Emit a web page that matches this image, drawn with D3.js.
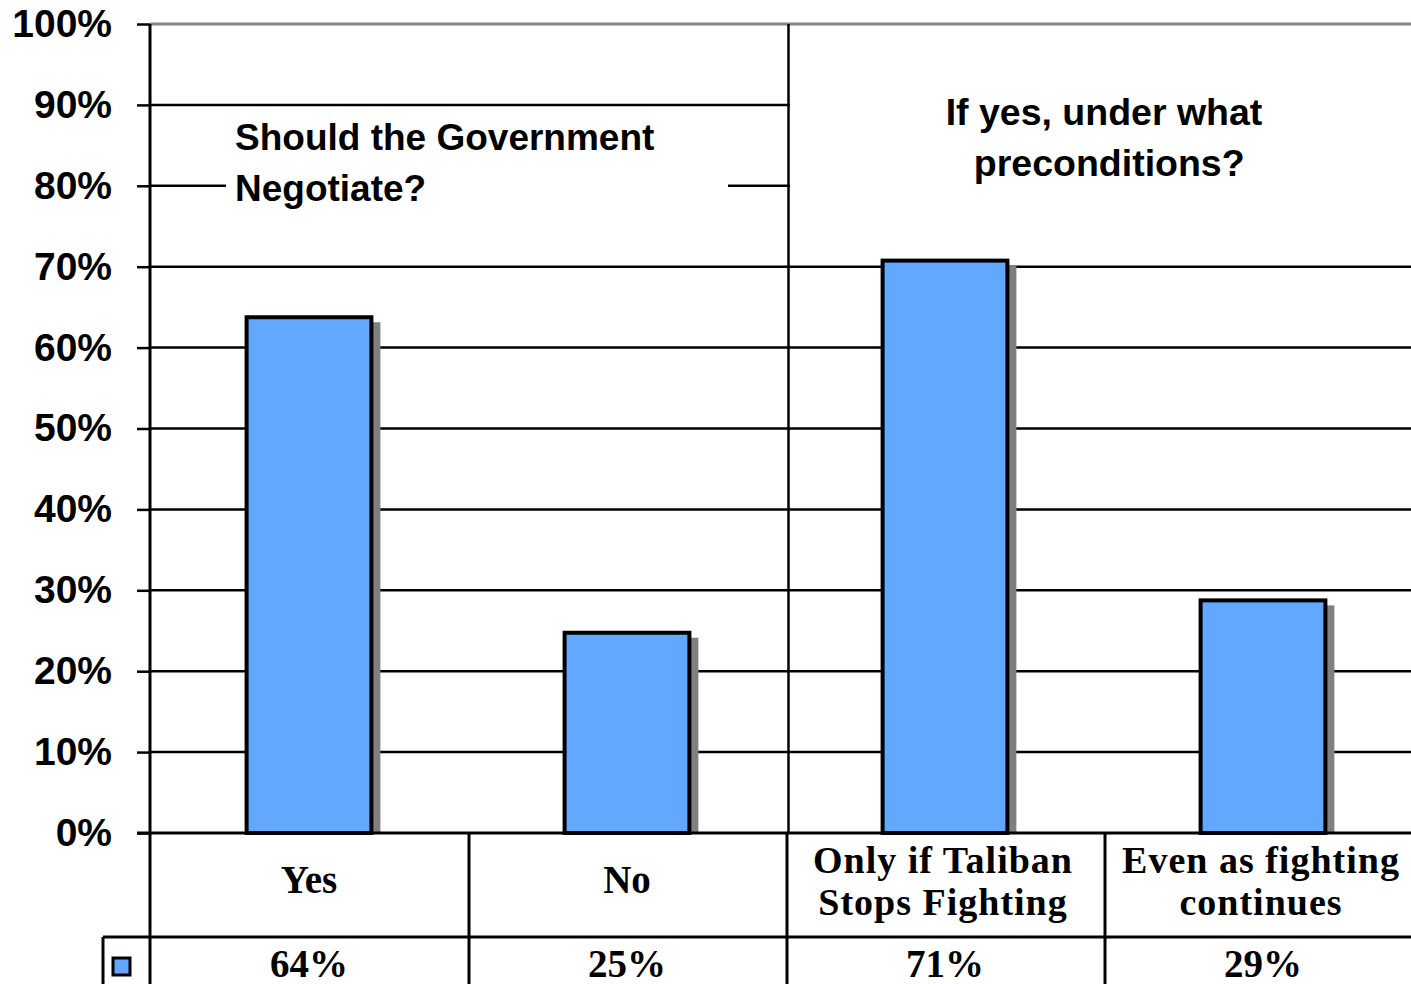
<!DOCTYPE html>
<html>
<head>
<meta charset="utf-8">
<script src="https://cdn.jsdelivr.net/npm/d3@7/dist/d3.min.js"></script>
<style>
  html, body { margin: 0; padding: 0; background: #fff; }
  svg { display: block; }
</style>
</head>
<body>
<svg id="chart" width="1411" height="984"></svg>
<script>
// ---- data ----
const categories = ["Yes", "No", "Only if Taliban\nStops Fighting", "Even as fighting\ncontinues"];
const values = [0.64, 0.25, 0.71, 0.29];
const valueLabels = ["64%", "25%", "71%", "29%"];
const yTicks = [0, 0.1, 0.2, 0.3, 0.4, 0.5, 0.6, 0.7, 0.8, 0.9, 1.0];
const leftTitle = ["Should the Government", "Negotiate?"];
const rightTitle = ["If yes, under what", " preconditions?"];

const svg = d3.select("#chart");
const sans = "'Liberation Sans', Arial, sans-serif";
const serif = "'Liberation Serif', 'Times New Roman', serif";

const y = d3.scaleLinear().domain([0, 1]).range([833, 24]);
const x = d3.scaleBand().domain(categories).range([151, 1423]).padding(0);
const barW = x.bandwidth() * 0.405;
const rightEdge = 1423;
const tableMid = 937, tableBottom = 984;

// gridlines
svg.append("g").selectAll("line")
  .data(yTicks.filter(d => d > 0 && d < 1))
  .join("line")
  .attr("x1", 150).attr("x2", rightEdge)
  .attr("y1", d => y(d)).attr("y2", d => y(d))
  .attr("stroke", "#000").attr("stroke-width", 2.5);

// top (100%) line gray
svg.append("line")
  .attr("x1", 150).attr("x2", rightEdge)
  .attr("y1", y(1)).attr("y2", y(1))
  .attr("stroke", "#888").attr("stroke-width", 3);

// white boxes behind titles
svg.append("rect").attr("x", 226).attr("y", 112).attr("width", 502).attr("height", 104).attr("fill", "#fff");
svg.append("rect").attr("x", x(categories[2]) + 3).attr("y", y(1) + 2).attr("width", rightEdge - x(categories[2])).attr("height", 200).attr("fill", "#fff");

// panel divider
svg.append("line")
  .attr("x1", x(categories[2]) + 1.5).attr("x2", x(categories[2]) + 1.5)
  .attr("y1", y(1)).attr("y2", y(0))
  .attr("stroke", "#000").attr("stroke-width", 2.5);

// titles
const lt = svg.append("text").attr("font-family", sans).attr("font-weight", "bold").attr("font-size", 37).attr("fill", "#000");
leftTitle.forEach((t, i) => lt.append("tspan").attr("x", 235).attr("y", 150 + i * 51).text(t));
const rcx = (x(categories[2]) + 1411) / 2 + 5;
const rt = svg.append("text").attr("font-family", sans).attr("font-weight", "bold").attr("font-size", 37.5).attr("fill", "#000").attr("text-anchor", "middle");
rightTitle.forEach((t, i) => rt.append("tspan").attr("x", rcx).attr("y", 125 + i * 51).attr("xml:space", "preserve").text(t));

// bars
const bars = svg.append("g");
categories.forEach((c, i) => {
  const cx = x(c) + x.bandwidth() / 2 - 1;
  const x0 = cx - barW / 2;
  const top = y(values[i]);
  bars.append("rect")
    .attr("x", x0 + 7).attr("y", top + 7)
    .attr("width", barW).attr("height", y(0) - top - 7)
    .attr("fill", "#808080");
  bars.append("rect")
    .attr("x", x0 + 2).attr("y", top + 2)
    .attr("width", barW - 4).attr("height", y(0) - top - 2)
    .attr("fill", "#62a8ff").attr("stroke", "#000").attr("stroke-width", 4);
});

// y axis
const yAxis = d3.axisLeft(y).tickValues(yTicks).tickSize(13).tickPadding(25).tickFormat(d3.format(".0%"));
const ax = svg.append("g").attr("transform", "translate(150,0)").call(yAxis);
ax.select(".domain").remove();
ax.selectAll(".tick line").attr("stroke", "#000").attr("stroke-width", 2.5);
ax.selectAll(".tick text")
  .attr("font-family", sans).attr("font-weight", "bold").attr("font-size", 39).attr("fill", "#000");

// baseline
svg.append("line").attr("x1", 137).attr("x2", rightEdge).attr("y1", y(0)).attr("y2", y(0))
  .attr("stroke", "#000").attr("stroke-width", 3);

// vertical axis line extends through table
svg.append("line").attr("x1", 150).attr("x2", 150).attr("y1", y(1)).attr("y2", tableBottom)
  .attr("stroke", "#000").attr("stroke-width", 3);

// table lines
const tbl = svg.append("g").attr("stroke", "#000").attr("stroke-width", 3);
categories.slice(1).forEach(c => {
  tbl.append("line").attr("x1", x(c)).attr("x2", x(c)).attr("y1", y(0)).attr("y2", tableBottom);
});
tbl.append("line").attr("x1", 103).attr("x2", rightEdge).attr("y1", tableMid).attr("y2", tableMid);
tbl.append("line").attr("x1", 103).attr("x2", 103).attr("y1", tableMid).attr("y2", tableBottom);

// category labels
categories.forEach((c, i) => {
  const cx = x(c) + x.bandwidth() / 2;
  const lines = c.split("\n");
  const t = svg.append("text").attr("font-family", serif).attr("font-weight", "bold")
    .attr("font-size", lines.length > 1 ? 38 : 39)
    .attr("text-anchor", "middle").attr("fill", "#000").attr("letter-spacing", lines.length > 1 ? 1 : 0);
  if (lines.length === 1) {
    t.append("tspan").attr("x", cx - 1).attr("y", 893).text(lines[0]);
  } else {
    lines.forEach((l, j) => t.append("tspan").attr("x", cx - 3).attr("y", 873 + j * 42).text(l));
  }
  svg.append("text").attr("font-family", serif).attr("font-weight", "bold").attr("font-size", 39)
    .attr("text-anchor", "middle").attr("fill", "#000")
    .attr("x", cx - 1).attr("y", 977).text(valueLabels[i]);
});

// legend key
svg.append("rect").attr("x", 113).attr("y", 958).attr("width", 17).attr("height", 17)
  .attr("fill", "#62a8ff").attr("stroke", "#000").attr("stroke-width", 3);
</script>
</body>
</html>
